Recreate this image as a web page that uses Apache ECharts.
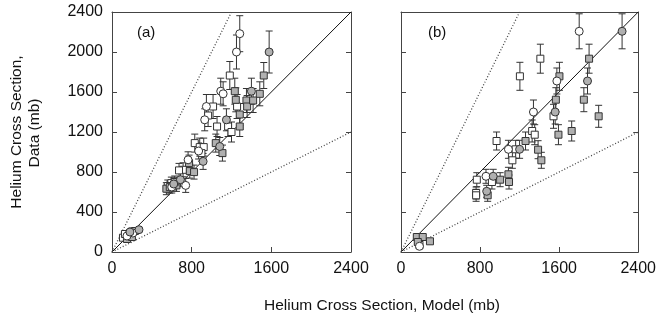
<!DOCTYPE html>
<html><head><meta charset="utf-8">
<script src="https://cdn.jsdelivr.net/npm/echarts@6/dist/echarts.min.js"></script>
<style>html,body{margin:0;padding:0;background:#fff}#c{width:659px;height:322px}</style>
</head><body><div id="c"></div>
<script>
// values: [model, data, error]
const xTicks = [0, 800, 1600, 2400];
const yTicks = [0, 400, 800, 1200, 1600, 2000, 2400];
const panelLabels = ['(a)', '(b)'];

const aOpenCircle = [[1283,2183,180],[1250,2000,170],[1092,1608,130],[1116,1582,120],[948,1455,120],[931,1322,110],[764,922,80],[740,666,70],[870,1010,80],[600,650,60],[210,190,20],[150,160,20]];
const aGrayCircle = [[1578,2000,210],[1400,1608,130],[1149,1322,110],[1082,1055,90],[915,906,80],[687,723,70],[271,223,20],[620,680,60],[180,200,20]];
const aOpenSquare = [[1183,1765,140],[1015,1455,120],[965,1365,110],[1256,1455,120],[1055,1255,100],[1166,1255,100],[1200,1200,100],[831,1089,90],[881,1049,90],[921,1049,90],[898,989,80],[714,822,70],[673,816,70],[596,689,60],[560,660,60],[110,143,20],[160,170,20],[200,205,20],[130,180,20]];
const aGraySquare = [[1524,1765,130],[1233,1608,130],[1484,1582,120],[1243,1522,120],[1350,1515,120],[1357,1455,110],[1417,1515,120],[1283,1375,110],[1283,1255,100],[1042,1089,90],[1109,989,80],[774,889,80],[781,809,70],[824,799,70],[647,666,60],[546,633,60],[580,649,60],[630,700,60],[178,183,20],[230,210,20],[150,130,20],[200,150,20]];

const bOpenCircle = [[1803,2207,175],[1577,1710,130],[1340,1400,120],[1087,1027,90],[860,757,70],[187,57,15]];
const bGrayCircle = [[2237,2207,175],[1887,1710,130],[1560,1400,120],[1200,1027,90],[933,757,70],[867,607,60]];
const bOpenSquare = [[1410,1933,145],[1203,1757,140],[1543,1357,120],[1327,1210,110],[1353,1173,100],[967,1110,90],[1160,1027,90],[1127,917,80],[767,723,70],[920,700,70],[760,590,60],[760,567,60],[187,70,15]];
const bGraySquare = [[1903,1933,145],[1603,1757,140],[1567,1523,120],[1850,1523,120],[2000,1357,110],[1593,1173,100],[1727,1210,100],[1260,1110,90],[1387,1023,90],[1420,917,80],[1003,723,70],[1087,777,70],[1093,700,70],[877,567,60],[160,150,20],[220,150,20],[293,107,20],[170,100,15]];

const identityLine = [[0,0],[2400,2400]];
const upperLine = [[0,0],[1200,2400]];
const lowerLine = [[0,0],[2400,1200]];

const FONT = 'Liberation Sans, Arial, sans-serif';
const AX = '#444';
const GRAY = '#b0b0b0';

const chart = echarts.init(document.getElementById('c'), null, {renderer:'canvas'});

const grids = [
  {left:112, top:12, width:239, height:240},
  {left:401, top:12, width:240, height:240}
];

const fmt = v => String(v);
const xAxes = [], yAxes = [];
[0,1].forEach(g => {
  xAxes.push({gridIndex:g, type:'value', min:0, max:2400, interval:800, position:'bottom',
    axisLine:{lineStyle:{color:AX, width:1}}, axisTick:{inside:true, length:5, lineStyle:{color:AX}},
    axisLabel:{color:'#111', fontSize:16, fontFamily:FONT, margin:9, formatter:fmt}, splitLine:{show:false}});
  xAxes.push({gridIndex:g, type:'value', min:0, max:2400, interval:800, position:'top',
    axisLine:{onZero:false, lineStyle:{color:AX, width:1}}, axisTick:{show:false}, axisLabel:{show:false}, splitLine:{show:false}});
  yAxes.push({gridIndex:g, type:'value', min:0, max:2400, interval:400, position:'left',
    axisLine:{onZero:false, lineStyle:{color:AX, width:1}}, axisTick:{inside:true, length:5, lineStyle:{color:AX}},
    axisLabel:{show:g===0, color:'#111', fontSize:16, fontFamily:FONT, margin:9, formatter:fmt}, splitLine:{show:false}});
  yAxes.push({gridIndex:g, type:'value', min:0, max:2400, interval:400, position:'right',
    axisLine:{onZero:false, lineStyle:{color:AX, width:1}}, axisTick:{inside:true, length:5, lineStyle:{color:AX}},
    axisLabel:{show:false}, splitLine:{show:false}});
});

function errRender(params, api){
  const x = api.value(0), y = api.value(1), e = api.value(2);
  const t = api.coord([x, y+e]), b = api.coord([x, y-e]);
  const st = {stroke:'#333', lineWidth:1};
  return {type:'group', children:[
    {type:'line', shape:{x1:t[0],y1:t[1],x2:b[0],y2:b[1]}, style:st},
    {type:'line', shape:{x1:t[0]-3.5,y1:t[1],x2:t[0]+3.5,y2:t[1]}, style:st},
    {type:'line', shape:{x1:b[0]-3.5,y1:b[1],x2:b[0]+3.5,y2:b[1]}, style:st}
  ]};
}

const series = [];
const panels = [
  [[aOpenSquare,'rect','#fff'],[aGraySquare,'rect',GRAY],[aOpenCircle,'circle','#fff'],[aGrayCircle,'circle',GRAY]],
  [[bOpenSquare,'rect','#fff'],[bGraySquare,'rect',GRAY],[bOpenCircle,'circle','#fff'],[bGrayCircle,'circle',GRAY]]
];
panels.forEach((groups, g) => {
  const xi = g*2, yi = g*2;
  series.push({type:'line', xAxisIndex:xi, yAxisIndex:yi, data:identityLine, symbol:'none', silent:true,
    lineStyle:{color:'#111', width:1}, z:1});
  series.push({type:'line', xAxisIndex:xi, yAxisIndex:yi, data:upperLine, symbol:'none', silent:true,
    lineStyle:{color:'#444', width:1.3, type:[1,2]}, z:1});
  series.push({type:'line', xAxisIndex:xi, yAxisIndex:yi, data:lowerLine, symbol:'none', silent:true,
    lineStyle:{color:'#444', width:1.3, type:[1,2]}, z:1});
  groups.forEach(([data, sym, fill]) => {
    series.push({type:'custom', xAxisIndex:xi, yAxisIndex:yi, data:data, renderItem:errRender,
      encode:{x:0, y:1}, z:2, silent:true, clip:false});
    series.push({type:'scatter', xAxisIndex:xi, yAxisIndex:yi, data:data.map(d=>[d[0],d[1]]),
      symbol:sym, symbolSize: sym==='rect'?7:8,
      itemStyle:{color:fill, borderColor:'#333', borderWidth:1, opacity:1}, z:3, silent:true});
  });
});

chart.setOption({
  animation:false,
  backgroundColor:'#fff',
  grid:grids,
  xAxis:xAxes,
  yAxis:yAxes,
  series:series,
  graphic:[
    {type:'text', left:137, top:25, style:{text:panelLabels[0], font:'15px '+FONT, fill:'#111'}},
    {type:'text', left:428, top:25, style:{text:panelLabels[1], font:'15px '+FONT, fill:'#111'}},
    {type:'text', x:382, y:306, style:{text:'Helium Cross Section, Model (mb)', font:'15.5px '+FONT, fill:'#111', align:'center', verticalAlign:'middle'}},
    {type:'text', x:17, y:132, rotation:Math.PI/2, style:{text:'Helium Cross Section,', font:'15.5px '+FONT, fill:'#111', align:'center', verticalAlign:'middle'}},
    {type:'text', x:35, y:133, rotation:Math.PI/2, style:{text:'Data (mb)', font:'15.5px '+FONT, fill:'#111', align:'center', verticalAlign:'middle'}}
  ]
});
</script></body></html>
